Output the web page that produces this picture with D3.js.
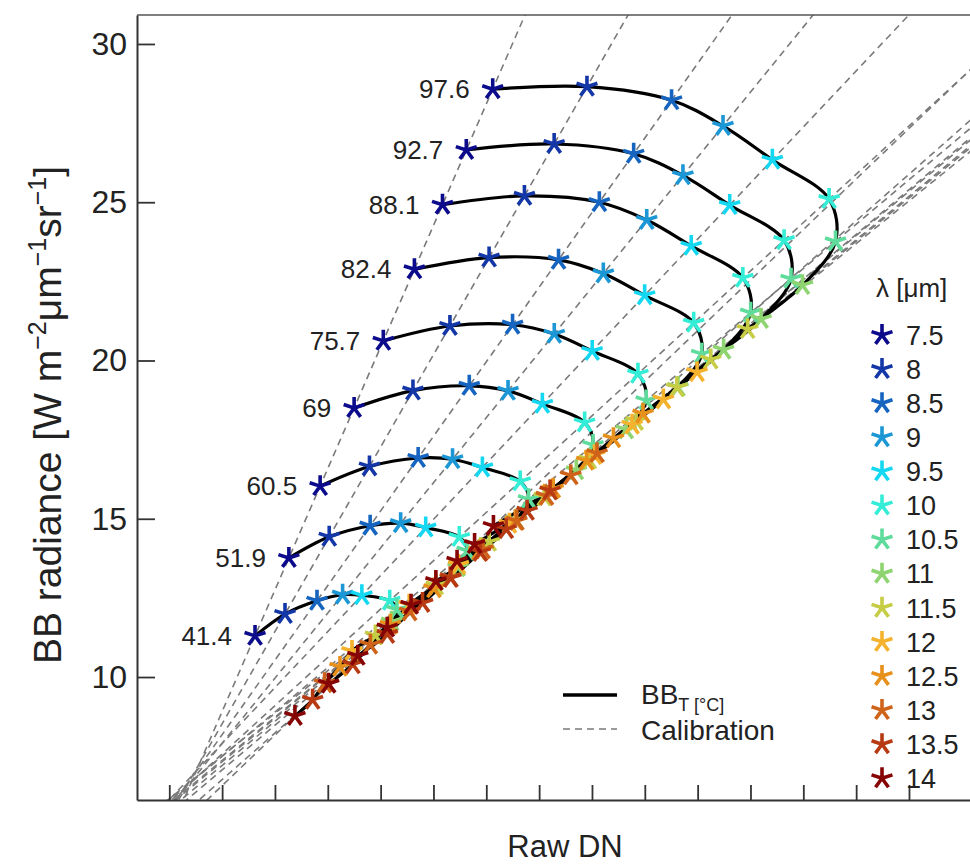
<!DOCTYPE html>
<html>
<head>
<meta charset="utf-8">
<script src="https://cdn.jsdelivr.net/npm/d3@7"></script>
<style>
  body { margin: 0; background: #fff; }
  text { font-family: "Liberation Sans", Arial, Helvetica, sans-serif; fill: #222; }
</style>
</head>
<body>
<svg id="chart" width="970" height="867"></svg>
<script>
   // blackbody set points (deg C), one black curve each
   var temps = [41.4, 51.9, 60.5, 69, 75.7, 82.4, 88.1, 92.7, 97.6];
   var wavelengths = [7.5, 8, 8.5, 9, 9.5, 10, 10.5, 11, 11.5, 12, 12.5, 13, 13.5, 14];

   // BB radiance read per wavelength, one list per temperature
   var rad41_4 = [11.30, 11.99, 12.41, 12.60, 12.58, 12.41, 12.13, 11.75, 11.31, 10.82, 10.32, 9.80, 9.28, 8.77];
   var rad51_9 = [13.76, 14.43, 14.78, 14.86, 14.72, 14.42, 13.99, 13.47, 12.89, 12.28, 11.65, 11.02, 10.40, 9.79];
   var rad60_5 = [16.03, 16.65, 16.92, 16.88, 16.62, 16.18, 15.62, 14.97, 14.27, 13.54, 12.80, 12.07, 11.36, 10.67];
   var rad69   = [18.50, 19.05, 19.20, 19.04, 18.63, 18.04, 17.33, 16.53, 15.70, 14.84, 13.99, 13.15, 12.34, 11.56];
   var rad75_7 = [20.62, 21.09, 21.13, 20.84, 20.30, 19.58, 18.74, 17.82, 16.87, 15.91, 14.95, 14.03, 13.13, 12.28];
   var rad82_4 = [22.88, 23.25, 23.18, 22.75, 22.06, 21.19, 20.21, 19.16, 18.09, 17.01, 15.95, 14.93, 13.95, 13.03];
   var rad88_1 = [24.92, 25.20, 25.00, 24.44, 23.62, 22.61, 21.51, 20.34, 19.15, 17.97, 16.83, 15.72, 14.67, 13.67];
   var rad92_7 = [26.65, 26.84, 26.53, 25.85, 24.91, 23.80, 22.58, 21.31, 20.03, 18.77, 17.54, 16.37, 15.25, 14.20];
   var rad97_6 = [28.57, 28.65, 28.22, 27.41, 26.34, 25.10, 23.76, 22.38, 20.99, 19.63, 18.32, 17.07, 15.89, 14.77];

   // calibration per wavelength: radiance = offset + gain * DN
   var calGain   = [3.839, 2.915, 2.356, 2.057, 1.771, 1.526, 1.401, 1.367, 1.374, 1.349, 1.395, 1.410, 1.471, 1.597];
   var calOffset = [5.070, 5.606, 5.823, 5.852, 6.125, 6.044, 6.094, 5.998, 5.950, 6.155, 5.813, 5.655, 5.289, 4.972];

   var dnTicks = [0, 1, 2, 3, 4, 5, 6, 7, 8, 9, 10, 11, 12, 13, 14];
   var radTicks = [10, 15, 20, 25, 30];

   var radByTemp = [rad41_4, rad51_9, rad60_5, rad69, rad75_7, rad82_4, rad88_1, rad92_7, rad97_6];

   var palette = ["#0b0b8c", "#1437a8", "#1565c0", "#1c97d6", "#14d8f2", "#33edd6", "#5fdc9c",
                  "#8ed470", "#c6cc44", "#f5b22c", "#e8901c", "#d0631a", "#b73a12", "#860404"];

   var svg = d3.select("#chart");
   var plot = {left: 137, top: 15, right: 993, bottom: 800};

   var x = d3.scaleLinear().domain([-0.611, 15.59]).range([plot.left, plot.right]);
   var y = d3.scaleLinear().domain([6.115, 30.915]).range([plot.bottom, plot.top]);

   svg.append("clipPath").attr("id", "clip")
      .append("rect")
      .attr("x", plot.left).attr("y", plot.top)
      .attr("width", plot.right - plot.left).attr("height", plot.bottom - plot.top);

   function starPath(r) {
      var p = "";
      for (var k = 0; k < 5; k++) {
         var a = -Math.PI / 2 + k * 2 * Math.PI / 5;
         p += "M0,0L" + (r * Math.cos(a)).toFixed(2) + "," + (r * Math.sin(a)).toFixed(2);
      }
      return p;
   }

   // calibration lines
   var calib = svg.append("g").attr("clip-path", "url(#clip)");
   wavelengths.forEach(function(w, i) {
      var dn = x.domain();
      calib.append("line")
         .attr("x1", x(dn[0])).attr("y1", y(calOffset[i] + calGain[i] * dn[0]))
         .attr("x2", x(dn[1])).attr("y2", y(calOffset[i] + calGain[i] * dn[1]))
         .attr("stroke", "#7a7a7a")
         .attr("stroke-width", 1.6)
         .attr("stroke-dasharray", "7,5");
   });

   // points: DN position follows each wavelength's calibration line
   var points = [];
   temps.forEach(function(t, ti) {
      var row = radByTemp[ti].map(function(r, wi) {
         return {temp: t, wl: wi, rad: r, dn: (r - calOffset[wi]) / calGain[wi]};
      });
      points.push(row);
   });

   var bbLine = d3.line()
      .x(function(d) { return x(d.dn); })
      .y(function(d) { return y(d.rad); })
      .curve(d3.curveCatmullRom.alpha(0.5));

   svg.append("g").selectAll("path")
      .data(points)
      .enter()
      .append("path")
      .attr("d", bbLine)
      .attr("fill", "none")
      .attr("stroke", "#000")
      .attr("stroke-width", 3.2);

   var star = starPath(11);
   points.forEach(function(row) {
      svg.append("g").selectAll("path")
         .data(row)
         .enter()
         .append("path")
         .attr("d", star)
         .attr("transform", function(d) { return "translate(" + x(d.dn) + "," + y(d.rad) + ")"; })
         .attr("fill", "none")
         .attr("stroke", function(d) { return palette[d.wl]; })
         .attr("stroke-width", 3.6);
   });

   // temperature labels
   svg.append("g").selectAll("text")
      .data(points)
      .enter()
      .append("text")
      .attr("x", function(row) { return x(row[0].dn) - 23; })
      .attr("y", function(row) { return y(row[0].rad); })
      .attr("dy", "0.35em")
      .attr("text-anchor", "end")
      .style("font-size", "26px")
      .text(function(row) { return row[0].temp; });

   // axes
   var yAxis = svg.append("g")
      .attr("transform", "translate(" + plot.left + ",0)")
      .call(d3.axisLeft(y).tickValues(radTicks).tickSize(-18).tickSizeOuter(0).tickPadding(10));
   var xAxis = svg.append("g")
      .attr("transform", "translate(0," + plot.bottom + ")")
      .call(d3.axisBottom(x).tickValues(dnTicks).tickFormat("").tickSize(-15).tickSizeOuter(0));
   [yAxis, xAxis].forEach(function(ax) {
      ax.select(".domain").attr("stroke", "#333").attr("stroke-width", 2);
      ax.selectAll(".tick line").attr("stroke", "#333").attr("stroke-width", 1.8);
   });
   yAxis.selectAll(".tick text")
      .style("font-size", "32px")
      .style("font-family", "Liberation Sans, Arial, sans-serif")
      .attr("fill", "#222");

   svg.append("line")
      .attr("x1", plot.left).attr("x2", plot.right)
      .attr("y1", plot.top).attr("y2", plot.top)
      .attr("stroke", "#555").attr("stroke-width", 1.5);

   // axis titles
   svg.append("text")
      .attr("x", 565).attr("y", 857)
      .attr("text-anchor", "middle")
      .style("font-size", "31px")
      .text("Raw DN");

   var yTitle = svg.append("text")
      .attr("transform", "translate(61,415) rotate(-90)")
      .attr("text-anchor", "middle")
      .style("font-size", "39px");
   yTitle.append("tspan").text("BB radiance [W m");
   yTitle.append("tspan").attr("dy", -15).style("font-size", "25px").text("\u22122");
   yTitle.append("tspan").attr("dy", 15).text("\u03bcm");
   yTitle.append("tspan").attr("dy", -15).style("font-size", "25px").text("\u22121");
   yTitle.append("tspan").attr("dy", 15).text("sr");
   yTitle.append("tspan").attr("dy", -15).style("font-size", "25px").text("\u22121");
   yTitle.append("tspan").attr("dy", 15).text("]");

   // wavelength legend
   svg.append("text")
      .attr("x", 876).attr("y", 297)
      .style("font-size", "26px")
      .text("\u03bb [\u03bcm]");
   var lg = svg.append("g").selectAll("g")
      .data(wavelengths)
      .enter()
      .append("g")
      .attr("transform", function(d, i) { return "translate(882," + (335 + i * 34.1) + ")"; });
   lg.append("path")
      .attr("d", star)
      .attr("fill", "none")
      .attr("stroke", function(d, i) { return palette[i]; })
      .attr("stroke-width", 3.6);
   lg.append("text")
      .attr("x", 24).attr("dy", "0.36em")
      .style("font-size", "27px")
      .text(function(d) { return d; });

   // line legend
   svg.append("line")
      .attr("x1", 563).attr("x2", 617).attr("y1", 695).attr("y2", 695)
      .attr("stroke", "#000").attr("stroke-width", 3.5);
   var bbText = svg.append("text")
      .attr("x", 641).attr("y", 704)
      .style("font-size", "28px");
   bbText.append("tspan").text("BB");
   bbText.append("tspan").attr("dy", 7).style("font-size", "18px").text("T [\u00b0C]");
   svg.append("line")
      .attr("x1", 563).attr("x2", 617).attr("y1", 729).attr("y2", 729)
      .attr("stroke", "#7a7a7a").attr("stroke-width", 1.6).attr("stroke-dasharray", "7,5");
   svg.append("text")
      .attr("x", 641).attr("y", 740)
      .style("font-size", "28px")
      .text("Calibration");
</script>
</body>
</html>
